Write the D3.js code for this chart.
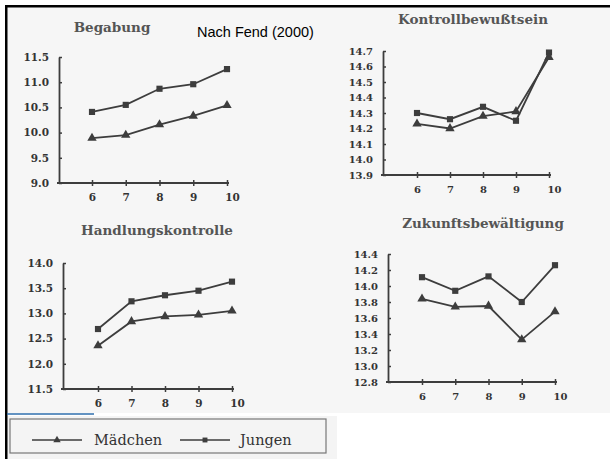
<!DOCTYPE html>
<html>
  <head>
    <meta charset="utf-8">
    <title>Nach Fend (2000)</title>
    <script src="https://d3js.org/d3.v7.min.js"></script>
    <style>
      body { margin: 0; background: #fff; }
    </style>
  </head>
  <body>
    <div id="chart"></div>
    <script>
      // Klassenstufen (x axis)
      var grades = [6, 7, 8, 9, 10];

      // Begabung
      var begabungM = [9.89, 9.95, 10.16, 10.33, 10.54];
      var begabungJ = [10.41, 10.55, 10.87, 10.96, 11.26];
      var begabungTicks = [9.0, 9.5, 10.0, 10.5, 11.0, 11.5];

      // Kontrollbewußtsein
      var kontrolleM = [14.23, 14.20, 14.28, 14.31, 14.66];
      var kontrolleJ = [14.30, 14.26, 14.34, 14.25, 14.69];
      var kontrolleTicks = [13.9, 14.0, 14.1, 14.2, 14.3, 14.4, 14.5, 14.6, 14.7];

      // Handlungskontrolle
      var handlungM = [12.36, 12.84, 12.94, 12.97, 13.05];
      var handlungJ = [12.69, 13.24, 13.36, 13.45, 13.63];
      var handlungTicks = [11.5, 12.0, 12.5, 13.0, 13.5, 14.0];

      // Zukunftsbewältigung
      var zukunftM = [13.84, 13.74, 13.75, 13.33, 13.68];
      var zukunftJ = [14.11, 13.94, 14.12, 13.80, 14.26];
      var zukunftTicks = [12.8, 13.0, 13.2, 13.4, 13.6, 13.8, 14.0, 14.2, 14.4];

      var ink = "#3d3d3d";

      var svg = d3.select("#chart")
                  .append("svg")
                  .attr("width", 610)
                  .attr("height", 459);

      // scanned page background, frame
      svg.append("rect").attr("x", 7).attr("y", 7).attr("width", 603).attr("height", 406).attr("fill", "#f6f6f6");
      svg.append("rect").attr("x", 7).attr("y", 416).attr("width", 330).attr("height", 43).attr("fill", "#f4f4f4");
      svg.append("rect").attr("x", 5).attr("y", 5).attr("width", 605).attr("height", 2.5).attr("fill", "#000");
      svg.append("rect").attr("x", 5).attr("y", 5).attr("width", 2.5).attr("height", 454).attr("fill", "#000");
      svg.append("line").attr("x1", 7).attr("x2", 94).attr("y1", 414).attr("y2", 414)
         .attr("stroke", "#2f6fae").attr("stroke-width", 1.5);

      svg.append("text")
         .attr("x", 197).attr("y", 37)
         .style("font-family", "'Liberation Sans', Arial, sans-serif")
         .style("font-size", "14.5px")
         .attr("fill", "#000")
         .text("Nach Fend (2000)");

      var panels = [
        { title: "Begabung", m: begabungM, j: begabungJ, ticks: begabungTicks,
          left: 59, x6: 92, x10: 227, xEnd: 229, top: 57, bottom: 183, tx: 112, ty: 32, fs: 10.5 },
        { title: "Kontrollbewußtsein", m: kontrolleM, j: kontrolleJ, ticks: kontrolleTicks,
          left: 383, x6: 417, x10: 549, xEnd: 551, top: 51, bottom: 175, tx: 473, ty: 24, fs: 10 },
        { title: "Handlungskontrolle", m: handlungM, j: handlungJ, ticks: handlungTicks,
          left: 63, x6: 98, x10: 232, xEnd: 234, top: 263, bottom: 389, tx: 157, ty: 235, fs: 10.5 },
        { title: "Zukunftsbewältigung", m: zukunftM, j: zukunftJ, ticks: zukunftTicks,
          left: 388, x6: 422, x10: 555, xEnd: 557, top: 254, bottom: 382, tx: 483, ty: 228, fs: 10 }
      ];

      var tri = d3.symbol().type(d3.symbolTriangle).size(38);
      var sq = d3.symbol().type(d3.symbolSquare).size(38);

      panels.forEach(function(p) {
        var g = svg.append("g");

        var xScale = d3.scaleLinear().domain([6, 10]).range([p.x6, p.x10]);
        var yScale = d3.scaleLinear()
                       .domain([p.ticks[0], p.ticks[p.ticks.length - 1]])
                       .range([p.bottom, p.top]);

        // title
        g.append("text")
         .attr("x", p.tx).attr("y", p.ty)
         .attr("text-anchor", "middle")
         .style("font-family", "'DejaVu Serif', serif")
         .style("font-weight", "bold")
         .style("font-size", "13.5px")
         .attr("fill", "#555")
         .text(p.title);

        // y axis
        var yAxis = g.append("g")
           .attr("transform", "translate(" + p.left + ",0)")
           .call(d3.axisLeft(yScale).tickValues(p.ticks).tickFormat(d3.format(".1f"))
                   .tickSizeInner(4).tickSizeOuter(0).tickPadding(6));
        yAxis.select(".domain").attr("stroke", ink).attr("stroke-width", 1.8);
        yAxis.selectAll(".tick line").attr("x2", 3).attr("stroke", ink).attr("stroke-width", 1.5);
        yAxis.selectAll(".tick text")
             .style("font-family", "'DejaVu Serif', serif")
             .style("font-weight", "bold")
             .style("font-size", p.fs + "px")
             .attr("fill", "#333");

        // x axis
        var xAxis = g.append("g")
           .attr("transform", "translate(0," + p.bottom + ")")
           .call(d3.axisBottom(xScale).tickValues(grades).tickFormat(d3.format("d"))
                   .tickSizeInner(3).tickSizeOuter(0).tickPadding(8));
        xAxis.select(".domain").attr("d", "M" + (p.left - 2) + ",0H" + p.xEnd)
             .attr("stroke", ink).attr("stroke-width", 1.8);
        xAxis.selectAll(".tick line").attr("y1", -3).attr("stroke", ink).attr("stroke-width", 1.5);
        xAxis.selectAll(".tick text")
             .style("font-family", "'DejaVu Serif', serif")
             .style("font-weight", "bold")
             .style("font-size", p.fs + "px")
             .attr("fill", "#333")
             .attr("dx", function(d) { return d === 10 ? 5 : 0; });

        var line = d3.line()
                     .x(function(d, i) { return xScale(grades[i]); })
                     .y(function(d) { return yScale(d); });

        [[p.j, sq], [p.m, tri]].forEach(function(s) {
          g.append("path")
           .datum(s[0])
           .attr("d", line)
           .attr("fill", "none")
           .attr("stroke", ink)
           .attr("stroke-width", 1.8);
          g.selectAll(null)
           .data(s[0])
           .enter()
           .append("path")
           .attr("d", s[1])
           .attr("transform", function(d, i) {
             return "translate(" + xScale(grades[i]) + "," + yScale(d) + ")";
           })
           .attr("fill", ink);
        });
      });

      // legend
      var legend = svg.append("g");
      legend.append("rect")
            .attr("x", 10).attr("y", 419).attr("width", 316).attr("height", 34)
            .attr("fill", "none").attr("stroke", "#777").attr("stroke-width", 1.2);
      var items = [
        { label: "Mädchen", sym: tri, x1: 32, x2: 82, tx: 94 },
        { label: "Jungen", sym: sq, x1: 180, x2: 230, tx: 240 }
      ];
      items.forEach(function(it) {
        legend.append("line")
              .attr("x1", it.x1).attr("x2", it.x2).attr("y1", 440).attr("y2", 440)
              .attr("stroke", ink).attr("stroke-width", 1.5);
        legend.append("path")
              .attr("d", it.sym.size(24)())
              .attr("transform", "translate(" + (it.x1 + it.x2) / 2 + ",440)")
              .attr("fill", ink);
        legend.append("text")
              .attr("x", it.tx).attr("y", 445)
              .style("font-family", "'DejaVu Serif', serif")
              .style("font-size", "14.5px")
              .attr("fill", "#333")
              .text(it.label);
      });
    </script>
  </body>
</html>
